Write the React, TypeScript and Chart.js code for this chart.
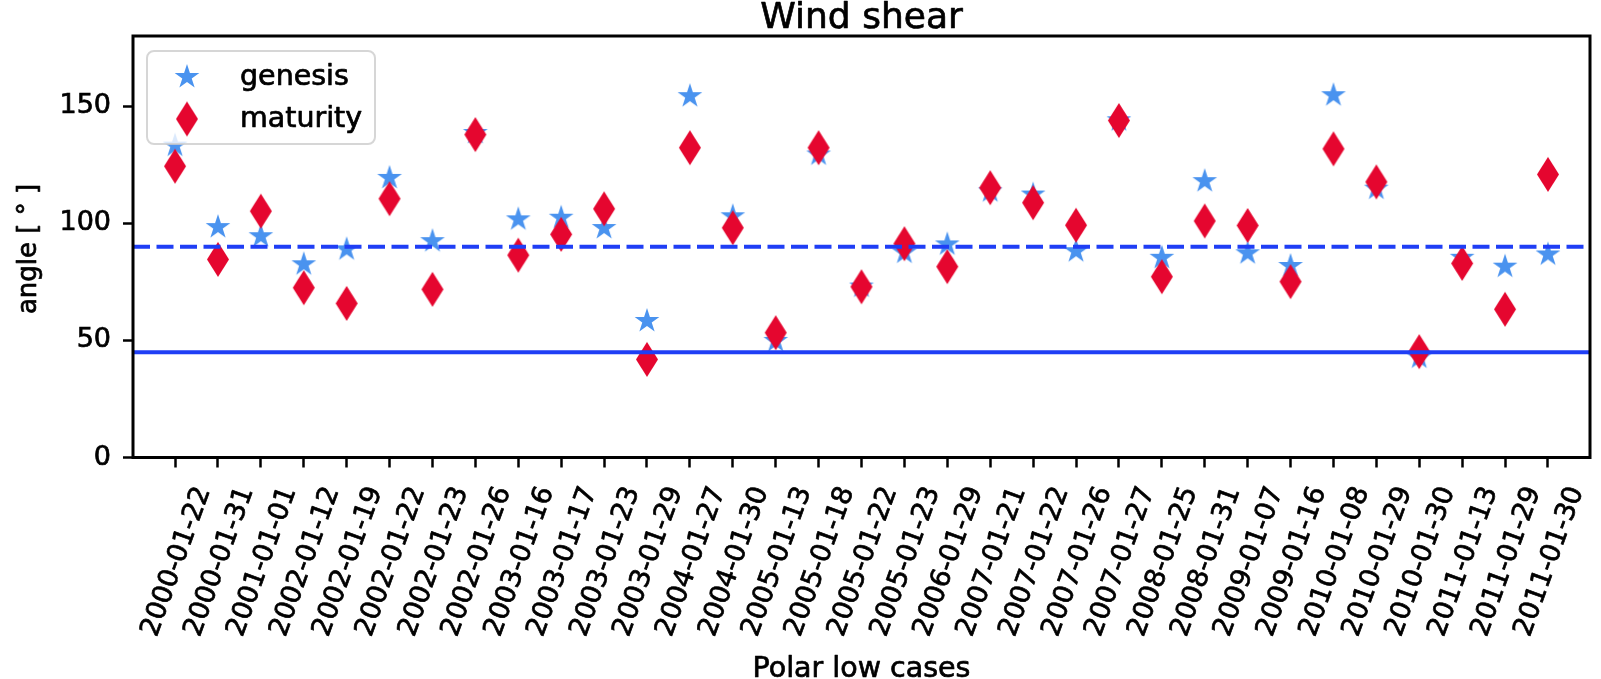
import React, { useEffect, useRef } from 'react';
import { Chart, registerables } from 'chart.js';

Chart.register(...registerables);

const CATEGORIES = [
  '2000-01-22', '2000-01-31', '2001-01-01', '2002-01-12', '2002-01-19', '2002-01-22',
  '2002-01-23', '2002-01-26', '2003-01-16', '2003-01-17', '2003-01-23', '2003-01-29',
  '2004-01-27', '2004-01-30', '2005-01-13', '2005-01-18', '2005-01-22', '2005-01-23',
  '2006-01-29', '2007-01-21', '2007-01-22', '2007-01-26', '2007-01-27', '2008-01-25',
  '2008-01-31', '2009-01-07', '2009-01-16', '2010-01-08', '2010-01-29', '2010-01-30',
  '2011-01-13', '2011-01-29', '2011-01-30',
];

const GENESIS = [
  133.2, 98.4, 94.5, 82.5, 88.9, 119.4, 92.4, 138.6, 101.7, 102.4, 98.0,
  58.3, 154.3, 103.0, 49.8, 129.4, 73.0, 87.5, 91.0, 113.7, 112.3, 88.1,
  144.0, 85.3, 118.0, 87.2, 81.8, 154.7, 114.8, 42.7, 85.3, 81.5, 86.7,
];

const MATURITY = [
  124.4, 84.6, 105.2, 72.5, 65.8, 110.5, 71.8, 137.9, 86.4, 95.3, 106.2,
  41.9, 132.3, 98.1, 53.3, 132.3, 72.9, 91.3, 81.5, 115.2, 108.8, 99.2,
  143.9, 77.2, 101.0, 99.1, 75.1, 131.8, 117.7, 45.2, 82.9, 63.3, 120.9,
];

const Y_TICKS = [0, 50, 100, 150];
const Y_MIN = 0;
const Y_MAX = 180;
const X_MIN = -0.98;
const X_MAX = 32.98;
const REF_DASHED = 90;
const REF_SOLID = 45;

const TITLE = 'Wind shear';
const X_TITLE = 'Polar low cases';
const Y_TITLE = 'angle [ \u00b0 ]';
const SERIES_LABELS = ['genesis', 'maturity'];

const FONT = '"DejaVu Sans", "Liberation Sans", sans-serif';
const STAR_COLOR = '#4a93ef';
const DIAMOND_COLOR = '#e5062f';
const LINE_COLOR = '#1f3ef5';
const TEXT_STROKE = 0.7;

function makeStar(R: number): HTMLCanvasElement {
  const c = document.createElement('canvas');
  const size = Math.ceil(2 * R + 4);
  c.width = size;
  c.height = size;
  const g = c.getContext('2d')!;
  const cx = size / 2;
  const cy = size / 2;
  const r = R * 0.381966;
  g.beginPath();
  for (let k = 0; k < 10; k++) {
    const rad = k % 2 === 0 ? R : r;
    const ang = -Math.PI / 2 + (k * Math.PI) / 5;
    const px = cx + rad * Math.cos(ang);
    const py = cy + rad * Math.sin(ang);
    if (k === 0) g.moveTo(px, py);
    else g.lineTo(px, py);
  }
  g.closePath();
  g.fillStyle = STAR_COLOR;
  g.fill();
  return c;
}

function makeDiamond(hw: number, hh: number): HTMLCanvasElement {
  const c = document.createElement('canvas');
  const w = Math.ceil(2 * hw + 4);
  const h = Math.ceil(2 * hh + 4);
  c.width = w;
  c.height = h;
  const g = c.getContext('2d')!;
  const cx = w / 2;
  const cy = h / 2;
  g.beginPath();
  g.moveTo(cx, cy - hh);
  g.lineTo(cx + hw, cy);
  g.lineTo(cx, cy + hh);
  g.lineTo(cx - hw, cy);
  g.closePath();
  g.fillStyle = DIAMOND_COLOR;
  g.fill();
  return c;
}

function boldText(ctx: CanvasRenderingContext2D, text: string, x: number, y: number) {
  ctx.fillText(text, x, y);
  ctx.strokeText(text, x, y);
}

export default function App() {
  const ref = useRef<HTMLCanvasElement | null>(null);

  useEffect(() => {
    const canvas = ref.current;
    if (!canvas) return;
    const star = makeStar(13);
    const diamond = makeDiamond(11, 17.5);

    const decorations = {
      id: 'decorations',
      afterDatasetsDraw(chart: any) {
        const { ctx, chartArea: a } = chart;
        const y = chart.scales.y;
        ctx.save();
        ctx.beginPath();
        ctx.rect(a.left, a.top, a.right - a.left, a.bottom - a.top);
        ctx.clip();
        ctx.strokeStyle = LINE_COLOR;
        ctx.lineWidth = 4;
        ctx.setLineDash([17, 6.5]);
        const yd = y.getPixelForValue(REF_DASHED);
        ctx.beginPath();
        ctx.moveTo(a.left, yd);
        ctx.lineTo(a.right, yd);
        ctx.stroke();
        ctx.setLineDash([]);
        const ys = y.getPixelForValue(REF_SOLID);
        ctx.beginPath();
        ctx.moveTo(a.left, ys);
        ctx.lineTo(a.right, ys);
        ctx.stroke();
        ctx.restore();
      },
      afterDraw(chart: any) {
        const { ctx, chartArea: a } = chart;
        const x = chart.scales.x;
        ctx.save();
        // frame
        ctx.strokeStyle = '#000';
        ctx.lineWidth = 3;
        ctx.strokeRect(a.left, a.top, a.right - a.left, a.bottom - a.top);

        // legend
        const lx = a.left + 14;
        const ly = a.top + 15;
        const lw = 228;
        const lh = 93;
        ctx.beginPath();
        (ctx as any).roundRect(lx, ly, lw, lh, 7);
        ctx.fillStyle = 'rgba(255,255,255,0.8)';
        ctx.fill();
        ctx.strokeStyle = 'rgba(204,204,204,0.8)';
        ctx.lineWidth = 2;
        ctx.stroke();
        const mx = lx + 40;
        const rows = [ly + 26, ly + 68];
        ctx.drawImage(star, mx - star.width / 2, rows[0] - star.height / 2);
        ctx.drawImage(diamond, mx - diamond.width / 2, rows[1] - diamond.height / 2);

        ctx.fillStyle = '#000';
        ctx.strokeStyle = '#000';
        ctx.lineWidth = TEXT_STROKE;
        ctx.lineJoin = 'round';
        ctx.font = `28.5px ${FONT}`;
        ctx.textAlign = 'left';
        ctx.textBaseline = 'alphabetic';
        boldText(ctx, SERIES_LABELS[0], lx + 93, rows[0] + 8);
        boldText(ctx, SERIES_LABELS[1], lx + 93, rows[1] + 8);

        // x tick labels
        const fs = 27;
        ctx.font = `${fs}px ${FONT}`;
        const rot = (-70 * Math.PI) / 180;
        const capH = 0.73 * fs;
        const labelTop = a.bottom + 26;
        CATEGORIES.forEach((lab, i) => {
          const px = x.getPixelForValue(i);
          const W = ctx.measureText(lab).width;
          const H = W * Math.sin((70 * Math.PI) / 180) + capH * Math.cos((70 * Math.PI) / 180);
          ctx.save();
          ctx.translate(px - 1, labelTop + H / 2);
          ctx.rotate(rot);
          ctx.textAlign = 'center';
          ctx.textBaseline = 'alphabetic';
          boldText(ctx, lab, 0, capH / 2);
          ctx.restore();
        });

        // titles
        const cx = (a.left + a.right) / 2;
        ctx.textAlign = 'center';
        ctx.textBaseline = 'alphabetic';
        ctx.font = `36px ${FONT}`;
        boldText(ctx, TITLE, cx, 28);
        ctx.font = `28.5px ${FONT}`;
        boldText(ctx, X_TITLE, cx, 677);
        ctx.save();
        ctx.translate(36, 249);
        ctx.rotate(-Math.PI / 2);
        ctx.font = `26px ${FONT}`;
        boldText(ctx, Y_TITLE, 0, 0);
        ctx.restore();
        ctx.restore();
      },
    };

    const chart = new Chart(canvas, {
      type: 'scatter',
      data: {
        datasets: [
          {
            label: SERIES_LABELS[0],
            data: GENESIS.map((v, i) => ({ x: i, y: v })),
            pointStyle: star as any,
            pointRadius: 10,
            pointHoverRadius: 10,
            backgroundColor: STAR_COLOR,
            order: 1,
          },
          {
            label: SERIES_LABELS[1],
            data: MATURITY.map((v, i) => ({ x: i, y: v })),
            pointStyle: diamond as any,
            pointRadius: 10,
            pointHoverRadius: 10,
            backgroundColor: DIAMOND_COLOR,
            order: 0,
          },
        ],
      },
      options: {
        responsive: false,
        animation: false,
        devicePixelRatio: 1,
        events: [],
        layout: { padding: { top: 36, right: 3, left: 0, bottom: 0 } },
        plugins: {
          legend: { display: false },
          title: { display: false },
          tooltip: { enabled: false },
        },
        scales: {
          x: {
            type: 'linear',
            min: X_MIN,
            max: X_MAX,
            afterBuildTicks: (s: any) => {
              s.ticks = CATEGORIES.map((_, i) => ({ value: i }));
            },
            afterFit: (s: any) => {
              s.height = 221.5;
            },
            ticks: { display: false },
            grid: {
              drawOnChartArea: false,
              drawTicks: true,
              tickLength: 10,
              tickWidth: 2.5,
              tickColor: '#000',
            },
            border: { display: false },
          },
          y: {
            type: 'linear',
            min: Y_MIN,
            max: Y_MAX,
            afterBuildTicks: (s: any) => {
              s.ticks = Y_TICKS.map((v) => ({ value: v }));
            },
            afterFit: (s: any) => {
              s.width = 133;
            },
            ticks: {
              color: '#000',
              font: { family: FONT, size: 27 },
              padding: 12,
              textStrokeColor: '#000',
              textStrokeWidth: TEXT_STROKE,
            },
            grid: {
              drawOnChartArea: false,
              drawTicks: true,
              tickLength: 10,
              tickWidth: 2.5,
              tickColor: '#000',
            },
            border: { display: false },
          },
        },
      } as any,
      plugins: [decorations],
    });

    return () => chart.destroy();
  }, []);

  return (
    <div style={{ position: 'absolute', left: 0, top: 0, width: 1601, height: 679, background: '#fff' }}>
      <canvas ref={ref} width={1601} height={679} style={{ display: 'block', width: 1601, height: 679 }} />
    </div>
  );
}
